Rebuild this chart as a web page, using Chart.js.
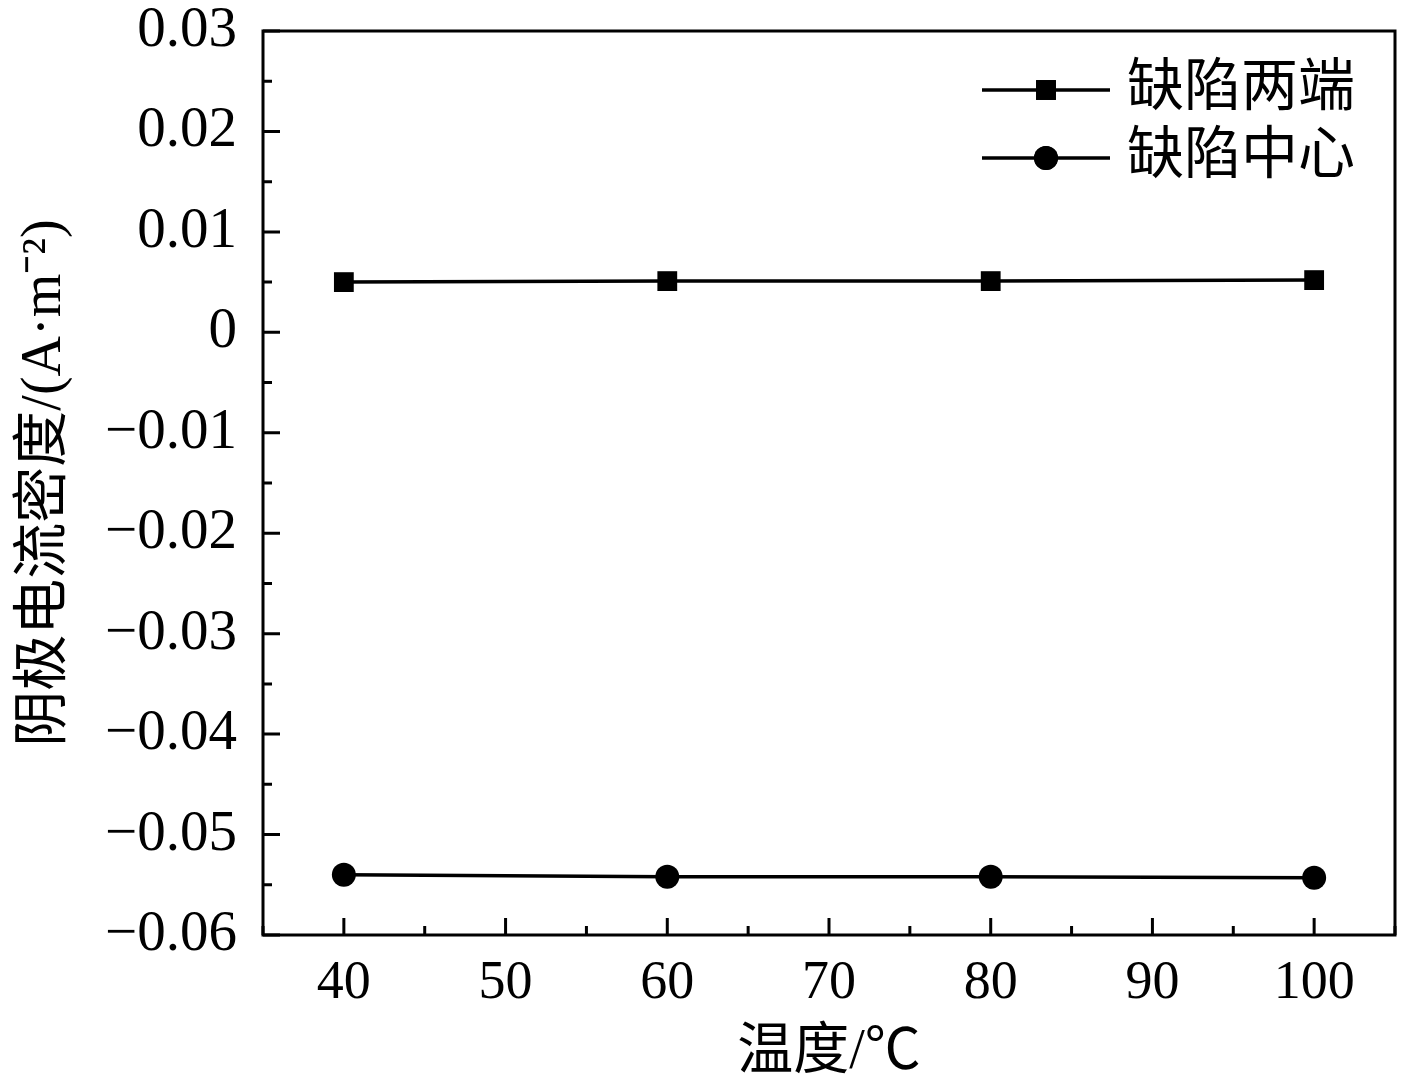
<!DOCTYPE html>
<html>
<head>
<meta charset="utf-8">
<script src="https://cdn.jsdelivr.net/npm/chart.js@4"></script>
<style>
  html, body { margin: 0; padding: 0; background: #fff; }
  #wrap { width: 1417px; height: 1087px; }
</style>
</head>
<body>
<div id="wrap"><canvas id="c" width="1417" height="1087"></canvas></div>
<script>
// ---- data ----
const temperatures = [40, 60, 80, 100];
const seriesNames = ['缺陷两端', '缺陷中心'];
const defectEnds = [0.0050, 0.0051, 0.0051, 0.0052];
const defectCenter = [-0.0540, -0.0542, -0.0542, -0.0543];
const xTicks = [40, 50, 60, 70, 80, 90, 100];
const xMinorTicks = [35, 45, 55, 65, 75, 85, 95, 105];
const yTicks = [-0.06, -0.05, -0.04, -0.03, -0.02, -0.01, 0, 0.01, 0.02, 0.03];
const yMinorTicks = [-0.055, -0.045, -0.035, -0.025, -0.015, -0.005, 0.005, 0.015, 0.025];
const xTitle = '温度/℃';
const yTitle = '阴极电流密度/(A·m⁻²)';

const FONT = '"Liberation Serif", "Noto Sans CJK SC", serif';

function fmtY(v) {
  const r = Math.round(v * 100) / 100;
  if (r === 0) return '0';
  const s = Math.abs(r).toFixed(2);
  return (r < 0 ? '\u2212' : '') + s;
}

const framePlugin = {
  id: 'frameTicks',
  afterDraw(chart) {
    const {ctx, chartArea: a, scales: {x, y}} = chart;
    ctx.save();
    ctx.strokeStyle = '#000';
    ctx.lineWidth = 3;
    ctx.beginPath();
    ctx.rect(a.left, a.top, a.right - a.left, a.bottom - a.top);
    ctx.stroke();
    ctx.beginPath();
    xTicks.forEach(v => { const px = x.getPixelForValue(v); ctx.moveTo(px, a.bottom); ctx.lineTo(px, a.bottom - 17); });
    xMinorTicks.forEach(v => { const px = x.getPixelForValue(v); ctx.moveTo(px, a.bottom); ctx.lineTo(px, a.bottom - 9); });
    yTicks.forEach(v => { const py = y.getPixelForValue(v); ctx.moveTo(a.left, py); ctx.lineTo(a.left + 17, py); });
    yMinorTicks.forEach(v => { const py = y.getPixelForValue(v); ctx.moveTo(a.left, py); ctx.lineTo(a.left + 9, py); });
    ctx.stroke();

    // legend: line with marker in the middle
    const rows = [90, 158];
    chart.data.datasets.forEach((ds, i) => {
      const yy = rows[i];
      ctx.beginPath();
      ctx.lineWidth = 3.5;
      ctx.moveTo(982, yy); ctx.lineTo(1110, yy);
      ctx.stroke();
      Chart.helpers.drawPoint(ctx, {pointStyle: ds.pointStyle, radius: ds.pointRadius, borderWidth: 0}, 1046, yy);
      ctx.fillStyle = '#000';
      ctx.fill();
      ctx.font = '57px ' + FONT;
      ctx.textBaseline = 'middle';
      ctx.textAlign = 'left';
      ctx.fillText(ds.label, 1127, yy);
    });
    ctx.restore();
  }
};

new Chart(document.getElementById('c'), {
  type: 'line',
  data: {
    datasets: [
      {
        label: seriesNames[0],
        data: temperatures.map((t, i) => ({x: t, y: defectEnds[i]})),
        borderColor: '#000', backgroundColor: '#000', borderWidth: 3.5,
        pointStyle: 'rect', pointRadius: 14, pointBorderWidth: 0, tension: 0
      },
      {
        label: seriesNames[1],
        data: temperatures.map((t, i) => ({x: t, y: defectCenter[i]})),
        borderColor: '#000', backgroundColor: '#000', borderWidth: 3.5,
        pointStyle: 'circle', pointRadius: 12, pointBorderWidth: 0, tension: 0
      }
    ]
  },
  options: {
    responsive: false,
    animation: false,
    layout: { padding: { top: 31, right: 22, left: 0, bottom: 0 } },
    plugins: { legend: { display: false }, tooltip: { enabled: false } },
    scales: {
      x: {
        type: 'linear', min: 35, max: 105,
        afterBuildTicks: s => { s.ticks = xTicks.map(v => ({value: v})); },
        afterFit: s => { s.height = 152; s.paddingLeft = 0; s.paddingRight = 0; },
        grid: { display: false, drawTicks: false },
        border: { display: false },
        ticks: { color: '#000', font: { family: FONT, size: 54 }, padding: 16, maxRotation: 0, autoSkip: false },
        title: { display: true, text: xTitle, color: '#000', font: { family: FONT, size: 56 }, padding: { top: 0, bottom: 0 } }
      },
      y: {
        type: 'linear', min: -0.06, max: 0.03,
        afterBuildTicks: s => { s.ticks = yTicks.map(v => ({value: v})); },
        afterFit: s => { s.width = 263; s.paddingTop = 0; s.paddingBottom = 0; },
        grid: { display: false, drawTicks: false },
        border: { display: false },
        ticks: { color: '#000', font: { family: FONT, size: 57 }, padding: 26, autoSkip: false, callback: v => fmtY(v) },
        title: { display: true, text: yTitle, color: '#000', font: { family: FONT, size: 56 }, padding: { top: 12, bottom: 0 } }
      }
    }
  },
  plugins: [framePlugin]
});
</script>
</body>
</html>
